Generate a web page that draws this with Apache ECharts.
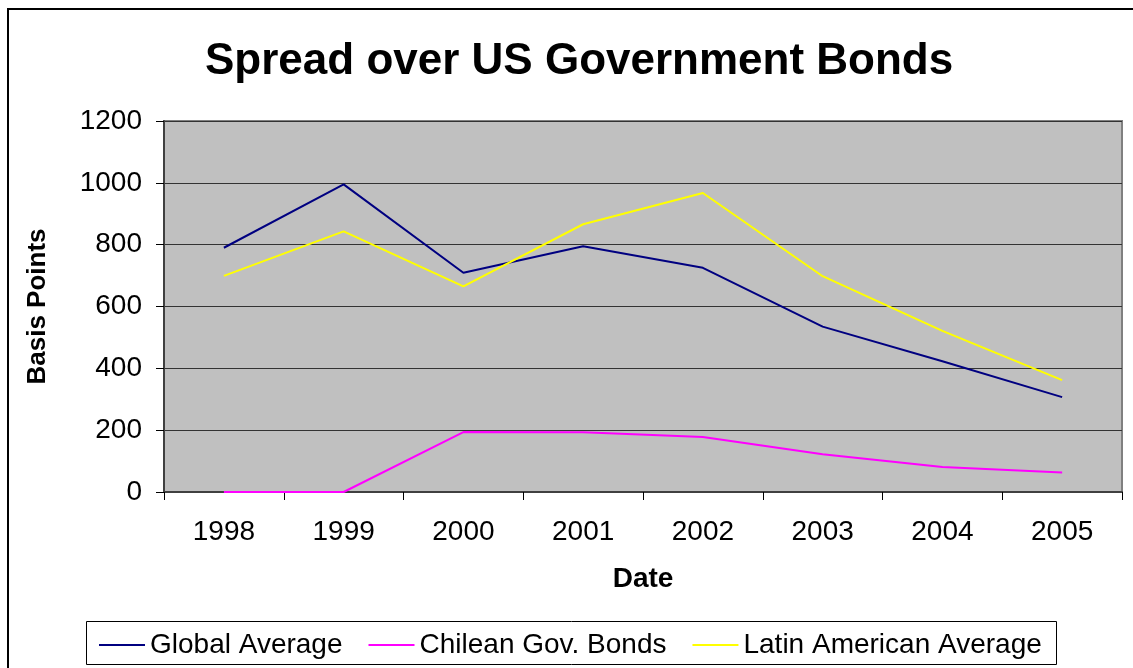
<!DOCTYPE html>
<html>
<head>
<meta charset="utf-8">
<script src="https://cdn.jsdelivr.net/npm/echarts@6/dist/echarts.min.js"></script>
<style>html,body{margin:0;padding:0;background:#fff;}#c{width:1133px;height:668px;}</style>
</head>
<body>
<div id="c"></div>
<script>
const categories = ['1998','1999','2000','2001','2002','2003','2004','2005'];
const globalAverage = [790, 995, 709, 795, 725, 535, 423, 307];
const chileanBonds = [0, 0, 194, 193, 178, 122, 81, 63];
const latinAverage = [699, 843, 665, 866, 967, 698, 521, 362];
const yTicks = [0, 200, 400, 600, 800, 1000, 1200];

const FONT = '"Liberation Sans", Arial, sans-serif';
const chart = echarts.init(document.getElementById('c'), null, {renderer: 'canvas'});
chart.setOption({
  animation: false,
  backgroundColor: '#ffffff',
  title: {
    text: 'Spread over US Government Bonds',
    left: 200, top: 35,
    textStyle: {fontFamily: FONT, fontWeight: 'bold', fontSize: 44, color: '#000'}
  },
  grid: {
    left: 164, right: 11, top: 121, bottom: 176,
    show: true, backgroundColor: '#C0C0C0', borderColor: '#808080', borderWidth: 2
  },
  legend: {
    left: 94, top: 626,
    icon: 'rect', itemWidth: 46, itemHeight: 2, itemGap: 26,
    textStyle: {fontFamily: FONT, fontSize: 28, color: '#000'},
    data: ['Global Average', 'Chilean Gov. Bonds', 'Latin American Average']
  },
  graphic: [
    {type: 'rect', shape: {x: 86.5, y: 621.5, width: 970, height: 43}, style: {fill: 'none', stroke: '#000', lineWidth: 1}, z: -1},
    {type: 'rect', shape: {x: 8, y: 9, width: 1200, height: 700}, style: {fill: 'none', stroke: '#000', lineWidth: 2}, z: -1}
  ],
  xAxis: {
    type: 'category', data: categories, boundaryGap: true,
    name: 'Date', nameLocation: 'middle', nameGap: 73,
    nameTextStyle: {fontFamily: FONT, fontWeight: 'bold', fontSize: 28, color: '#000'},
    axisLine: {lineStyle: {color: '#404040', width: 2}},
    axisTick: {show: true, length: 8, inside: false, lineStyle: {color: '#000'}},
    axisLabel: {fontFamily: FONT, fontSize: 28, color: '#000', margin: 26},
    splitLine: {show: false}
  },
  yAxis: {
    type: 'value', min: 0, max: 1200, interval: 200,
    name: 'Basis Points', nameLocation: 'middle', nameGap: 113, nameRotate: 90,
    nameTextStyle: {fontFamily: FONT, fontWeight: 'bold', fontSize: 26, color: '#000'},
    axisLine: {show: true, lineStyle: {color: '#404040', width: 2}},
    axisTick: {show: true, length: 8, lineStyle: {color: '#000'}},
    axisLabel: {fontFamily: FONT, fontSize: 28, color: '#000', margin: 22,
      formatter: v => yTicks.includes(v) ? String(v) : ''},
    splitLine: {show: true, lineStyle: {color: '#333333', width: 1}}
  },
  series: [
    {name: 'Global Average', type: 'line', data: globalAverage, symbol: 'none', lineStyle: {color: '#000080', width: 2}, itemStyle: {color: '#000080'}},
    {name: 'Chilean Gov. Bonds', type: 'line', data: chileanBonds, symbol: 'none', lineStyle: {color: '#FF00FF', width: 2}, itemStyle: {color: '#FF00FF'}},
    {name: 'Latin American Average', type: 'line', data: latinAverage, symbol: 'none', lineStyle: {color: '#FFFF00', width: 2}, itemStyle: {color: '#FFFF00'}}
  ]
});
</script>
</body>
</html>
